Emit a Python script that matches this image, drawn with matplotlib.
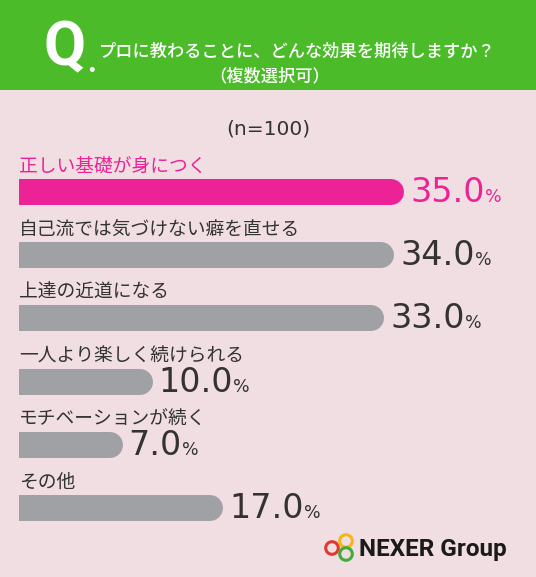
import matplotlib
matplotlib.use("Agg")
import matplotlib.pyplot as plt
from matplotlib.patches import Rectangle, Circle

plt.rcParams['font.family'] = ['Noto Sans CJK JP', 'DejaVu Sans']

# data
categories = ['正しい基礎が身につく', '自己流では気づけない癖を直せる', '上達の近道になる',
              '一人より楽しく続けられる', 'モチベーションが続く', 'その他']
values = [35.0, 34.0, 33.0, 10.0, 7.0, 17.0]
title = 'プロに教わることに、どんな効果を期待しますか？'
subtitle = '（複数選択可）'
sample = '(n=100)'

BG = '#f0dee2'
GREEN = '#4bbb2a'
PINK = '#ec2396'
GRAY = '#a0a1a5'
DARK = '#333333'

W, H = 536, 577
fig = plt.figure(figsize=(W / 100, H / 100), dpi=100)
fig.patch.set_facecolor(BG)

# decoration layer in pixel units
bg = fig.add_axes([0, 0, 1, 1])
bg.set_xlim(0, W)
bg.set_ylim(H, 0)
bg.axis('off')
bg.add_patch(Rectangle((0, 0), W, 90, color=GREEN, lw=0))
bg.text(44, 65, 'Q', color='white', fontsize=44, fontweight='bold',
        family='Roboto', ha='left', va='baseline')
bg.text(87, 72, '.', color='white', fontsize=22, fontweight='bold',
        family='Roboto', ha='left', va='baseline')
bg.text(297, 52, title, color='white', fontsize=12.4, fontweight='medium',
        ha='center', va='center')
bg.text(270, 76, subtitle, color='white', fontsize=12.4, fontweight='medium',
        ha='center', va='center')
bg.text(268, 129, sample, color=DARK, fontsize=14.5, family='DejaVu Sans',
        ha='center', va='center')

# logo
for (cx, cy), col in zip([(332, 548), (346, 541), (346, 554)],
                         ['#e0392f', '#f2b71b', '#40ad3a']):
    bg.add_patch(Circle((cx, cy), 6.3, fill=False, ec=col, lw=2.2))
bg.text(359, 556, 'NEXER Group', color='#1a1a1a', fontsize=17.5,
        fontweight='bold', family='Roboto', ha='left', va='baseline')

# bars
ax = fig.add_axes([19 / W, 1 - 540 / H, (W - 19) / W, 400 / H])
ax.set_xlim(-3.3, 48.1)
ax.set_ylim(5.50, -0.82)
ax.axis('off')

x0, x1 = ax.get_xlim()
px_per_unit = ax.get_position().width * W / (x1 - x0)
bar_px = 26
r = bar_px / 2 / px_per_unit

for i, (cat, v) in enumerate(zip(categories, values)):
    col = PINK if i == 0 else GRAY
    tcol = PINK if i == 0 else DARK
    ax.plot([x0 - 5, v - r], [i, i], color=col, lw=bar_px * 0.72,
            solid_capstyle='round')
    ax.annotate(cat, xy=(0, i), xycoords=('axes fraction', 'data'),
                xytext=(0, 26), textcoords='offset pixels',
                ha='left', va='center', fontsize=13.5, color=tcol)
    t = ax.annotate(f'{v:.1f}', xy=(v, i), xytext=(6, -10),
                    textcoords='offset pixels', ha='left', va='baseline',
                    fontsize=24, color=tcol, family='DejaVu Sans')
    ax.annotate('%', xy=(1, i), xycoords=(t, 'data'), xytext=(0, -10),
                textcoords='offset pixels', ha='left', va='baseline',
                fontsize=12.5, color=tcol, family='DejaVu Sans')

fig.savefig('out.png', dpi=100, facecolor=BG)
